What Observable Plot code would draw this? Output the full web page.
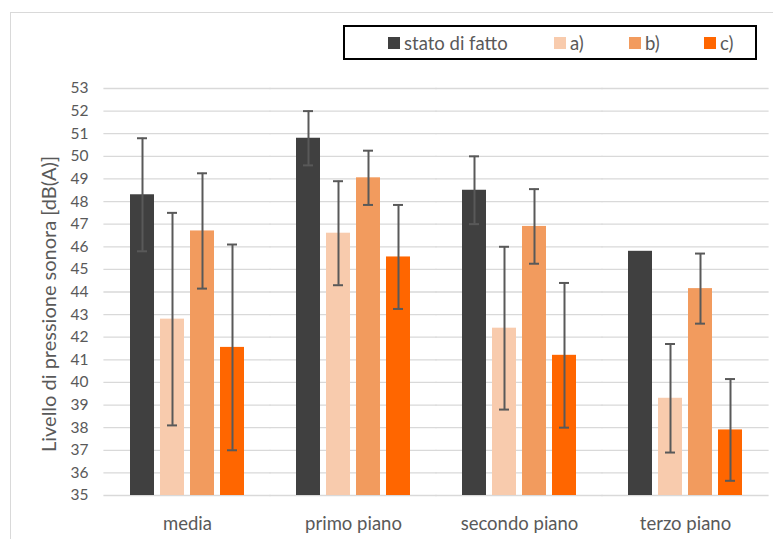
<!DOCTYPE html>
<html>
<head>
<meta charset="utf-8">
<script src="https://cdn.jsdelivr.net/npm/d3@7"></script>
<script src="https://cdn.jsdelivr.net/npm/@observablehq/plot@0.6"></script>
<style>
  body { margin: 0; background: #fff; font-family: Lato, "Open Sans", sans-serif; }
  #wrap { position: relative; width: 773px; height: 539px; overflow: hidden; }
  #frame { position: absolute; left: 10px; top: 12px; width: 900px; height: 700px;
           border-left: 1px solid #d9d9d9; border-top: 1px solid #d9d9d9; }
  #chart { position: absolute; left: 0; top: 0; }
  #ylabel { position: absolute; left: 48px; top: 304px; transform: translate(-50%, -50%) rotate(-90deg);
            white-space: nowrap; font-size: 20px; color: #595959; }
  #legend { position: absolute; left: 343px; top: 25px; width: 410px; height: 31px;
            border: 2px solid #000; background: #fff; display: flex; align-items: center; }
  #legend .inner { display: flex; align-items: center; margin-left: 43px; }
  #legend .item { display: flex; align-items: center; font-size: 18.5px; color: #595959; }
  #legend .item:nth-child(1) { width: 166px; }
  #legend .item:nth-child(2) { width: 75px; }
  #legend .item:nth-child(3) { width: 75px; }
  #legend .sw { width: 12px; height: 12px; margin-right: 4px; }
</style>
</head>
<body>
<div id="wrap">
  <div id="frame"></div>
  <div id="chart"></div>
  <div id="ylabel"></div>
  <div id="legend"><div class="inner"></div></div>
</div>
<script>
const groups = ["media", "primo piano", "secondo piano", "terzo piano"];
const series = ["stato di fatto", "a)", "b)", "c)"];
const colors = ["#404040", "#f8cbad", "#f29b5e", "#ff6600"];

const statoDiFatto = [48.3, 50.8, 48.5, 45.8];
const statoDiFattoErr = [2.5, 1.2, 1.5, 0];
const serieA = [42.8, 46.6, 42.4, 39.3];
const serieAErr = [4.7, 2.3, 3.6, 2.4];
const serieB = [46.7, 49.05, 46.9, 44.15];
const serieBErr = [2.55, 1.2, 1.65, 1.55];
const serieC = [41.55, 45.55, 41.2, 37.9];
const serieCErr = [4.55, 2.3, 3.2, 2.25];

const yTicks = [35, 36, 37, 38, 39, 40, 41, 42, 43, 44, 45, 46, 47, 48, 49, 50, 51, 52, 53];
const yLabel = "Livello di pressione sonora [dB(A)]";

const values = [statoDiFatto, serieA, serieB, serieC];
const errs = [statoDiFattoErr, serieAErr, serieBErr, serieCErr];

const data = groups.flatMap((g, i) => series.map((s, j) => ({
  group: g, series: s, value: values[j][i], err: errs[j][i]
})));
const errData = data.filter(d => d.err > 0);
const gridData = groups.flatMap(g => yTicks.map(t => ({ group: g, tick: t })));

const chart = Plot.plot({
  width: 773,
  height: 539,
  marginLeft: 102,
  marginRight: 4,
  marginTop: 88,
  marginBottom: 44,
  style: { fontFamily: "Lato, 'Open Sans', sans-serif", background: "transparent", color: "#595959" },
  fx: { domain: groups, paddingInner: 0.315, paddingOuter: 0.1575, label: null },
  x: { domain: series, paddingInner: 0.2, paddingOuter: 0, axis: null },
  y: { domain: [35, 53], label: null },
  color: { domain: series, range: colors },
  marks: [
    Plot.ruleY(gridData, { fx: "group", y: "tick", stroke: "#d9d9d9", strokeWidth: 1.3,
                           insetLeft: -26.6, insetRight: -26.6 }),
    Plot.axisY({ ticks: yTicks, tickSize: 0, tickPadding: 42, fontSize: 15.5, label: null, fill: "#595959" }),
    Plot.barY(data, { fx: "group", x: "series", y1: 35, y2: "value", fill: "series" }),
    Plot.ruleX(errData, { fx: "group", x: "series", y1: d => d.value - d.err, y2: d => d.value + d.err,
                          stroke: "#595959", strokeWidth: 2 }),
    Plot.tickY(errData, { fx: "group", x: "series", y: d => d.value + d.err, insetLeft: 7, insetRight: 7,
                          stroke: "#595959", strokeWidth: 2 }),
    Plot.tickY(errData, { fx: "group", x: "series", y: d => d.value - d.err, insetLeft: 7, insetRight: 7,
                          stroke: "#595959", strokeWidth: 2 }),
    Plot.axisFx({ anchor: "bottom", tickSize: 0, tickPadding: 21, fontSize: 18.5, label: null, fill: "#595959" })
  ]
});
document.getElementById("chart").appendChild(chart);
document.getElementById("ylabel").textContent = yLabel;

const inner = document.querySelector("#legend .inner");
series.forEach((s, i) => {
  const item = document.createElement("div");
  item.className = "item";
  const sw = document.createElement("span");
  sw.className = "sw";
  sw.style.background = colors[i];
  const t = document.createElement("span");
  t.textContent = s;
  item.appendChild(sw);
  item.appendChild(t);
  inner.appendChild(item);
});
</script>
</body>
</html>
